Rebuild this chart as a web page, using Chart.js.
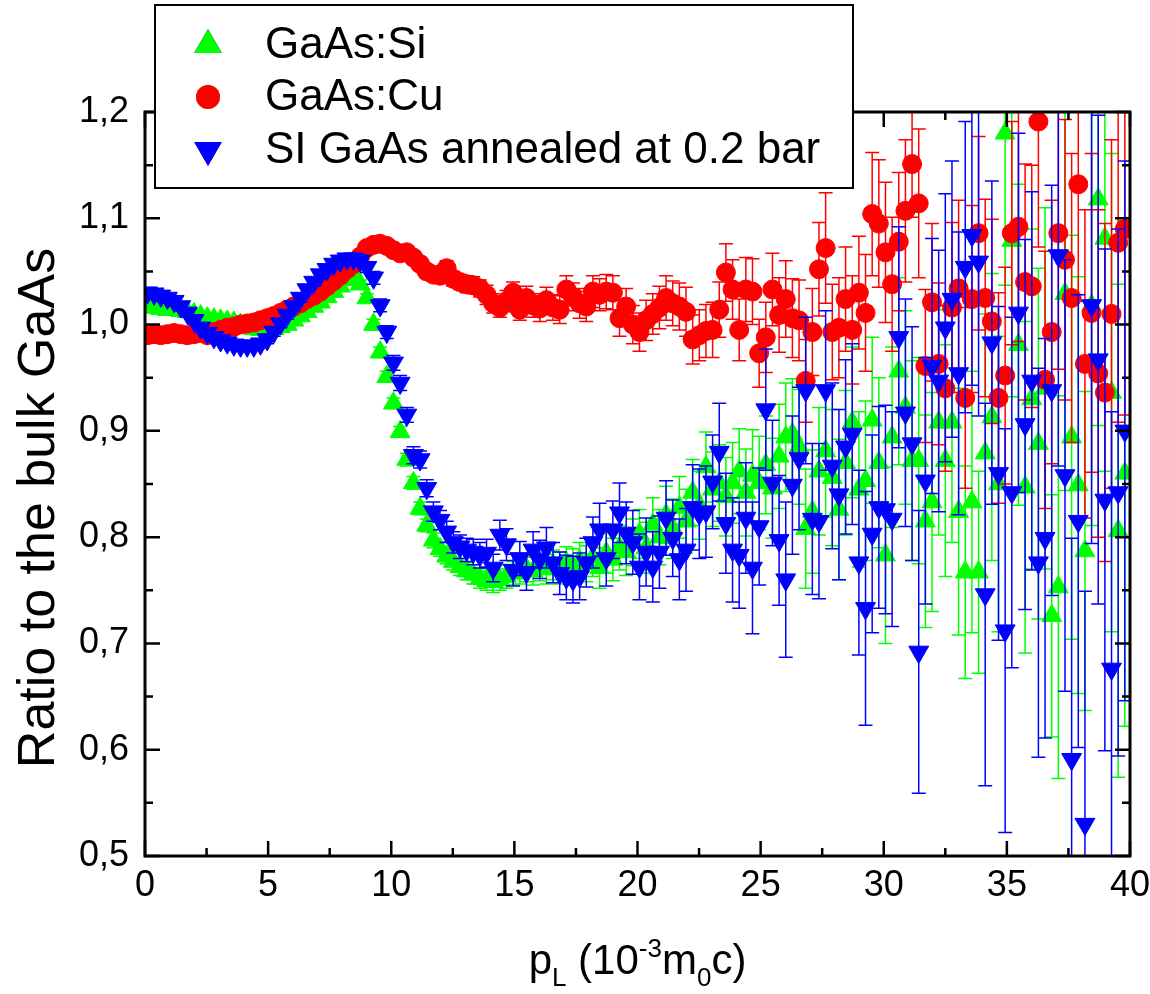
<!DOCTYPE html>
<html>
<head>
<meta charset="utf-8">
<script src="https://cdn.jsdelivr.net/npm/chart.js@4.4.0/dist/chart.umd.min.js"></script>
<style>
  html, body { margin: 0; padding: 0; background: #fff; }
  #wrap { width: 1150px; height: 994px; }
</style>
</head>
<body>
<div id="wrap"><canvas id="ratioChart" width="1150" height="994"></canvas></div>
<script>
// p_L in 10^-3 m0c
const pL = [
  0.10, 0.37, 0.64, 0.91, 1.18, 1.45, 1.72, 1.99, 2.26, 2.53,
  2.80, 3.07, 3.34, 3.61, 3.88, 4.15, 4.42, 4.69, 4.96, 5.23,
  5.50, 5.77, 6.04, 6.31, 6.58, 6.85, 7.12, 7.39, 7.66, 7.93,
  8.20, 8.47, 8.74, 9.01, 9.28, 9.55, 9.82, 10.09, 10.36, 10.63,
  10.90, 11.17, 11.44, 11.71, 11.98, 12.25, 12.52, 12.79, 13.06, 13.33,
  13.60, 13.87, 14.14, 14.41, 14.68, 14.95, 15.22, 15.49, 15.76, 16.03,
  16.30, 16.57, 16.84, 17.11, 17.38, 17.65, 17.92, 18.19, 18.46, 18.73,
  19.00, 19.27, 19.54, 19.81, 20.08, 20.35, 20.62, 20.89, 21.16, 21.43,
  21.70, 21.97, 22.24, 22.51, 22.78, 23.05, 23.32, 23.59, 23.86, 24.13,
  24.40, 24.67, 24.94, 25.21, 25.48, 25.75, 26.02, 26.29, 26.56, 26.83,
  27.10, 27.37, 27.64, 27.91, 28.18, 28.45, 28.72, 28.99, 29.26, 29.53,
  29.80, 30.07, 30.34, 30.61, 30.88, 31.15, 31.42, 31.69, 31.96, 32.23,
  32.50, 32.77, 33.04, 33.31, 33.58, 33.85, 34.12, 34.39, 34.66, 34.93,
  35.20, 35.47, 35.74, 36.01, 36.28, 36.55, 36.82, 37.09, 37.36, 37.63,
  37.90, 38.17, 38.44, 38.71, 38.98, 39.25, 39.52, 39.79
];

// GaAs:Si
const siRatio = [
  1.017, 1.016, 1.015, 1.014, 1.014, 1.013, 1.012, 1.010, 1.008, 1.006,
  1.005, 1.004, 1.003, 1.002, 1.000, 0.998, 0.996, 0.995, 0.995, 0.996,
  0.998, 1.000, 1.004, 1.008, 1.012, 1.017, 1.021, 1.026, 1.031, 1.036,
  1.042, 1.045, 1.038, 1.025, 1.000, 0.974, 0.951, 0.926, 0.899, 0.873,
  0.851, 0.827, 0.811, 0.797, 0.789, 0.782, 0.777, 0.772, 0.768, 0.765,
  0.761, 0.759, 0.758, 0.760, 0.763, 0.766, 0.768, 0.770, 0.768, 0.772,
  0.770, 0.774, 0.771, 0.776, 0.773, 0.778, 0.775, 0.781, 0.771, 0.785,
  0.779, 0.790, 0.786, 0.795, 0.803, 0.790, 0.812, 0.800, 0.821, 0.808,
  0.828, 0.815, 0.842, 0.830, 0.866, 0.845, 0.851, 0.838, 0.851, 0.862,
  0.842, 0.858, 0.851, 0.868, 0.846, 0.876, 0.894, 0.897, 0.885, 0.808,
  0.824, 0.862, 0.881, 0.856, 0.826, 0.870, 0.908, 0.845, 0.853, 0.910,
  0.870, 0.783, 0.894, 0.956, 0.922, 0.872, 0.872, 0.815, 0.833, 0.908,
  0.872, 0.908, 0.824, 0.767, 0.833, 0.767, 0.879, 0.913, 0.850, 1.180,
  1.079, 0.981, 0.847, 0.930, 0.888, 0.940, 0.726, 0.753, 1.029, 0.894,
  0.849, 0.787, 1.018, 1.118, 1.081, 0.936, 0.806, 0.860
];
const siErr = [
  0.003, 0.003, 0.003, 0.003, 0.003, 0.003, 0.003, 0.003, 0.003, 0.003,
  0.003, 0.003, 0.003, 0.003, 0.003, 0.003, 0.003, 0.003, 0.003, 0.003,
  0.003, 0.003, 0.003, 0.003, 0.003, 0.003, 0.003, 0.003, 0.003, 0.003,
  0.004, 0.004, 0.004, 0.004, 0.005, 0.005, 0.005, 0.005, 0.005, 0.006,
  0.006, 0.006, 0.006, 0.007, 0.007, 0.007, 0.008, 0.008, 0.008, 0.009,
  0.009, 0.009, 0.010, 0.010, 0.011, 0.011, 0.012, 0.012, 0.013, 0.013,
  0.014, 0.014, 0.015, 0.015, 0.016, 0.017, 0.017, 0.018, 0.019, 0.019,
  0.020, 0.021, 0.022, 0.022, 0.023, 0.024, 0.025, 0.026, 0.027, 0.028,
  0.029, 0.030, 0.031, 0.032, 0.033, 0.035, 0.036, 0.037, 0.038, 0.040,
  0.041, 0.043, 0.044, 0.046, 0.047, 0.049, 0.051, 0.052, 0.054, 0.056,
  0.058, 0.060, 0.062, 0.064, 0.066, 0.068, 0.071, 0.073, 0.075, 0.078,
  0.080, 0.083, 0.085, 0.088, 0.091, 0.094, 0.097, 0.100, 0.103, 0.106,
  0.109, 0.113, 0.116, 0.100, 0.123, 0.095, 0.131, 0.135, 0.139, 0.143,
  0.147, 0.151, 0.156, 0.160, 0.165, 0.170, 0.114, 0.180, 0.185, 0.190,
  0.196, 0.150, 0.207, 0.213, 0.219, 0.225, 0.232, 0.238
];

// GaAs:Cu
const cuRatio = [
  0.990, 0.991, 0.990, 0.991, 0.992, 0.991, 0.990, 0.991, 0.992, 0.990,
  0.993, 0.995, 0.997, 0.998, 1.000, 1.001, 1.002, 1.004, 1.006, 1.008,
  1.011, 1.014, 1.017, 1.020, 1.024, 1.027, 1.031, 1.036, 1.041, 1.046,
  1.052, 1.057, 1.064, 1.072, 1.075, 1.076, 1.074, 1.070, 1.067, 1.068,
  1.063, 1.057, 1.050, 1.047, 1.046, 1.053, 1.043, 1.040, 1.038, 1.037,
  1.034, 1.028, 1.020, 1.016, 1.022, 1.030, 1.014, 1.025, 1.018, 1.015,
  1.023, 1.016, 1.014, 1.033, 1.026, 1.020, 1.017, 1.031, 1.028, 1.031,
  1.030, 1.006, 1.017, 1.000, 0.993, 1.004, 1.010, 1.016, 1.025, 1.020,
  1.017, 1.012, 0.986, 0.990, 0.994, 0.995, 1.014, 1.049, 1.033, 0.995,
  1.033, 1.031, 0.973, 0.988, 1.033, 1.009, 1.024, 1.006, 1.004, 0.947,
  0.993, 1.052, 1.072, 0.993, 0.997, 1.024, 0.995, 1.030, 1.011, 1.104,
  1.095, 1.068, 1.038, 1.078, 1.107, 1.151, 1.114, 0.961, 1.021, 0.963,
  0.940, 1.016, 1.034, 0.931, 1.024, 1.086, 1.025, 1.003, 0.931, 0.952,
  1.086, 1.092, 1.040, 1.036, 1.191, 0.948, 0.993, 1.086, 1.061, 1.025,
  1.132, 0.963, 1.011, 0.954, 0.936, 1.010, 1.077, 1.090
];
const cuErr = [
  0.003, 0.003, 0.003, 0.003, 0.003, 0.003, 0.003, 0.003, 0.003, 0.003,
  0.003, 0.003, 0.003, 0.003, 0.003, 0.003, 0.003, 0.003, 0.003, 0.003,
  0.003, 0.003, 0.003, 0.003, 0.004, 0.004, 0.004, 0.004, 0.004, 0.004,
  0.004, 0.004, 0.004, 0.004, 0.004, 0.005, 0.005, 0.005, 0.005, 0.005,
  0.005, 0.006, 0.006, 0.006, 0.006, 0.007, 0.007, 0.007, 0.008, 0.008,
  0.008, 0.009, 0.009, 0.009, 0.010, 0.010, 0.010, 0.011, 0.011, 0.012,
  0.012, 0.012, 0.013, 0.013, 0.013, 0.014, 0.014, 0.015, 0.015, 0.016,
  0.016, 0.017, 0.017, 0.018, 0.018, 0.019, 0.019, 0.020, 0.021, 0.021,
  0.022, 0.023, 0.023, 0.024, 0.025, 0.026, 0.026, 0.027, 0.028, 0.029,
  0.030, 0.031, 0.032, 0.033, 0.034, 0.035, 0.036, 0.037, 0.038, 0.039,
  0.041, 0.044, 0.052, 0.045, 0.047, 0.049, 0.051, 0.053, 0.055, 0.058,
  0.060, 0.066, 0.063, 0.065, 0.067, 0.050, 0.070, 0.072, 0.074, 0.076,
  0.078, 0.080, 0.083, 0.085, 0.088, 0.091, 0.093, 0.096, 0.099, 0.102,
  0.105, 0.108, 0.111, 0.114, 0.118, 0.121, 0.124, 0.128, 0.132, 0.136,
  0.110, 0.145, 0.150, 0.154, 0.159, 0.164, 0.169, 0.175
];

// SI GaAs annealed at 0.2 bar
const annealedRatio = [
  1.030, 1.029, 1.027, 1.025, 1.022, 1.017, 1.011, 1.004, 0.997, 0.992,
  0.988, 0.985, 0.983, 0.981, 0.980, 0.980, 0.980, 0.982, 0.986, 0.993,
  1.001, 1.009, 1.017, 1.025, 1.033, 1.040, 1.047, 1.052, 1.057, 1.060,
  1.062, 1.062, 1.060, 1.054, 1.044, 1.018, 0.993, 0.964, 0.945, 0.915,
  0.877, 0.873, 0.846, 0.824, 0.816, 0.805, 0.795, 0.791, 0.788, 0.786,
  0.783, 0.785, 0.771, 0.802, 0.793, 0.769, 0.780, 0.767, 0.788, 0.779,
  0.790, 0.776, 0.766, 0.762, 0.760, 0.763, 0.776, 0.795, 0.807, 0.780,
  0.807, 0.823, 0.804, 0.795, 0.772, 0.786, 0.772, 0.786, 0.818, 0.799,
  0.779, 0.788, 0.828, 0.822, 0.824, 0.852, 0.880, 0.813, 0.788, 0.783,
  0.818, 0.771, 0.810, 0.920, 0.851, 0.797, 0.760, 0.849, 0.874, 0.938,
  0.817, 0.815, 0.938, 0.867, 0.840, 0.885, 0.897, 0.776, 0.733, 0.803,
  0.828, 0.826, 0.817, 0.988, 0.917, 0.888, 0.692, 0.853, 0.961, 0.947,
  0.997, 1.024, 0.954, 1.054, 1.084, 1.059, 0.746, 0.983, 0.860, 0.712,
  0.842, 1.011, 0.906, 0.947, 0.776, 0.799, 0.938, 1.065, 0.858, 0.591,
  0.815, 0.530, 1.018, 0.967, 0.835, 0.676, 0.842, 0.900
];
const annealedErr = [
  0.004, 0.004, 0.004, 0.004, 0.004, 0.004, 0.004, 0.004, 0.004, 0.004,
  0.004, 0.004, 0.004, 0.004, 0.004, 0.004, 0.004, 0.004, 0.004, 0.004,
  0.004, 0.004, 0.004, 0.004, 0.004, 0.004, 0.004, 0.004, 0.004, 0.004,
  0.004, 0.005, 0.005, 0.005, 0.006, 0.006, 0.006, 0.007, 0.007, 0.007,
  0.008, 0.008, 0.008, 0.009, 0.009, 0.010, 0.010, 0.011, 0.011, 0.012,
  0.012, 0.013, 0.013, 0.014, 0.015, 0.015, 0.016, 0.017, 0.017, 0.018,
  0.019, 0.019, 0.020, 0.021, 0.022, 0.022, 0.023, 0.024, 0.025, 0.026,
  0.027, 0.028, 0.029, 0.030, 0.031, 0.032, 0.033, 0.034, 0.035, 0.036,
  0.038, 0.039, 0.040, 0.042, 0.043, 0.044, 0.046, 0.047, 0.049, 0.050,
  0.052, 0.062, 0.055, 0.057, 0.059, 0.061, 0.073, 0.065, 0.067, 0.069,
  0.071, 0.073, 0.075, 0.078, 0.080, 0.082, 0.085, 0.087, 0.110, 0.093,
  0.095, 0.098, 0.101, 0.104, 0.107, 0.110, 0.133, 0.116, 0.120, 0.123,
  0.126, 0.130, 0.133, 0.137, 0.141, 0.145, 0.180, 0.152, 0.157, 0.190,
  0.165, 0.169, 0.174, 0.178, 0.183, 0.188, 0.193, 0.198, 0.203, 0.208,
  0.213, 0.219, 0.224, 0.230, 0.236, 0.242, 0.248, 0.254
];

const seriesLabels = ['GaAs:Si', 'GaAs:Cu', 'SI GaAs annealed at 0.2 bar'];
const seriesColors = ['#00ff00', '#ff0000', '#0000ff'];

const FONT = "'Liberation Sans', Arial, sans-serif";

// error bars, drawn just before each dataset's own markers
const errorBars = {
  id: 'errorBars',
  beforeDatasetDraw(chart, args) {
    const ds = chart.data.datasets[args.index];
    const yScale = chart.scales.y;
    const area = chart.chartArea;
    const ctx = chart.ctx;
    const cap = 7;
    ctx.save();
    ctx.beginPath();
    ctx.rect(area.left, area.top, area.right - area.left, area.bottom - area.top);
    ctx.clip();
    ctx.strokeStyle = ds.borderColor;
    ctx.lineWidth = 1.5;
    ctx.beginPath();
    args.meta.data.forEach((pt, i) => {
      const d = ds.data[i];
      const yHi = yScale.getPixelForValue(d.y + d.err);
      const yLo = yScale.getPixelForValue(d.y - d.err);
      ctx.moveTo(pt.x, yHi);
      ctx.lineTo(pt.x, yLo);
      ctx.moveTo(pt.x - cap, yHi);
      ctx.lineTo(pt.x + cap, yHi);
      ctx.moveTo(pt.x - cap, yLo);
      ctx.lineTo(pt.x + cap, yLo);
    });
    ctx.stroke();
    ctx.restore();
  }
};

// box frame with inward ticks on all four sides
const frameTicks = {
  id: 'frameTicks',
  afterDatasetsDraw(chart) {
    const { ctx, chartArea: a, scales: { x, y } } = chart;
    const major = 15, minor = 8;
    ctx.save();
    ctx.strokeStyle = '#000';
    ctx.lineWidth = 2.5;
    ctx.beginPath();
    x.ticks.forEach((t, i) => {
      const px = x.getPixelForValue(t.value);
      ctx.moveTo(px, a.bottom); ctx.lineTo(px, a.bottom - major);
      ctx.moveTo(px, a.top); ctx.lineTo(px, a.top + major);
      if (i < x.ticks.length - 1) {
        const pm = x.getPixelForValue((t.value + x.ticks[i + 1].value) / 2);
        ctx.moveTo(pm, a.bottom); ctx.lineTo(pm, a.bottom - minor);
        ctx.moveTo(pm, a.top); ctx.lineTo(pm, a.top + minor);
      }
    });
    y.ticks.forEach((t, i) => {
      const py = y.getPixelForValue(t.value);
      ctx.moveTo(a.left, py); ctx.lineTo(a.left + major, py);
      ctx.moveTo(a.right, py); ctx.lineTo(a.right - major, py);
      if (i < y.ticks.length - 1) {
        const pm = y.getPixelForValue((t.value + y.ticks[i + 1].value) / 2);
        ctx.moveTo(a.left, pm); ctx.lineTo(a.left + minor, pm);
        ctx.moveTo(a.right, pm); ctx.lineTo(a.right - minor, pm);
      }
    });
    ctx.stroke();
    ctx.lineWidth = 3;
    ctx.strokeRect(a.left, a.top, a.right - a.left, a.bottom - a.top);
    ctx.restore();
  }
};

// axis titles and boxed legend
const titlesLegend = {
  id: 'titlesLegend',
  afterDraw(chart) {
    const { ctx, chartArea: a } = chart;
    ctx.save();
    ctx.fillStyle = '#000';

    // y title
    ctx.save();
    ctx.translate(54, 508);
    ctx.rotate(-Math.PI / 2);
    ctx.font = '52px ' + FONT;
    ctx.textAlign = 'center';
    ctx.textBaseline = 'alphabetic';
    ctx.fillText('Ratio to the bulk GaAs', 0, 0);
    ctx.restore();

    // x title with sub/superscripts
    const big = 42, small = 26;
    const parts = [
      { t: 'p', s: big, dy: 0 },
      { t: 'L', s: small, dy: 12 },
      { t: ' (10', s: big, dy: 0 },
      { t: '-3', s: small, dy: -17 },
      { t: 'm', s: big, dy: 0 },
      { t: '0', s: small, dy: 12 },
      { t: 'c)', s: big, dy: 0 }
    ];
    let total = 0;
    parts.forEach(p => { ctx.font = p.s + 'px ' + FONT; p.w = ctx.measureText(p.t).width; total += p.w; });
    let cx = (a.left + a.right) / 2 - total / 2;
    const base = 974;
    ctx.textAlign = 'left';
    ctx.textBaseline = 'alphabetic';
    parts.forEach(p => {
      ctx.font = p.s + 'px ' + FONT;
      ctx.fillText(p.t, cx, base + p.dy);
      cx += p.w;
    });

    // legend box
    const box = { l: 155, t: 5, r: 853, b: 188 };
    ctx.fillStyle = '#fff';
    ctx.fillRect(box.l, box.t, box.r - box.l, box.b - box.t);
    ctx.strokeStyle = '#000';
    ctx.lineWidth = 2;
    ctx.strokeRect(box.l, box.t, box.r - box.l, box.b - box.t);
    const rowsY = [45, 97, 150];
    chart.data.datasets.forEach((ds, i) => {
      const my = rowsY[i];
      Chart.helpers.drawPoint(ctx, {
        pointStyle: ds.pointStyle,
        rotation: ds.pointRotation || 0,
        radius: ds.legendRadius,
        borderWidth: 1
      }, 208, my);
      ctx.fillStyle = ds.backgroundColor;
      ctx.strokeStyle = ds.borderColor;
      ctx.fill();
      ctx.stroke();
      ctx.fillStyle = '#000';
      ctx.font = '44px ' + FONT;
      ctx.textBaseline = 'middle';
      ctx.fillText(ds.label, 265, my + 1);
    });
    ctx.restore();
  }
};

function makeSet(idx, values, errs, style, rotation, radius, legendRadius, order) {
  return {
    label: seriesLabels[idx],
    data: pL.map((x, i) => ({ x: x, y: values[i], err: errs[i] })),
    pointStyle: style,
    pointRotation: rotation,
    pointRadius: radius,
    legendRadius: legendRadius,
    pointBorderWidth: 1,
    backgroundColor: seriesColors[idx],
    borderColor: seriesColors[idx],
    showLine: false,
    order: order
  };
}

const datasets = [
  makeSet(0, siRatio, siErr, 'triangle', 0, 11.5, 14, 2),
  makeSet(1, cuRatio, cuErr, 'circle', 0, 9.5, 11, 1),
  makeSet(2, annealedRatio, annealedErr, 'triangle', 180, 11.5, 14, 0)
];

new Chart(document.getElementById('ratioChart').getContext('2d'), {
  type: 'scatter',
  data: { datasets: datasets },
  options: {
    responsive: false,
    devicePixelRatio: 1,
    animation: false,
    events: [],
    layout: { padding: { top: 112, right: 20, left: 0, bottom: 0 } },
    plugins: {
      legend: { display: false },
      tooltip: { enabled: false }
    },
    scales: {
      x: {
        type: 'linear',
        min: 0,
        max: 40,
        grid: { display: false, drawTicks: false },
        border: { display: false },
        ticks: {
          stepSize: 5,
          padding: 8,
          color: '#000',
          maxRotation: 0,
          font: { family: FONT, size: 36 }
        },
        afterFit: function(scale) {
          scale.height = 138;
          scale.paddingLeft = 0;
          scale.paddingRight = 0;
        }
      },
      y: {
        type: 'linear',
        min: 0.5,
        max: 1.2,
        grid: { display: false, drawTicks: false },
        border: { display: false },
        ticks: {
          stepSize: 0.1,
          padding: 16,
          color: '#000',
          font: { family: FONT, size: 36 },
          callback: function(v) { return v.toFixed(1).replace('.', ','); }
        },
        afterFit: function(scale) {
          scale.width = 145;
          scale.paddingTop = 0;
          scale.paddingBottom = 0;
        }
      }
    }
  },
  plugins: [errorBars, frameTicks, titlesLegend]
});
</script>
</body>
</html>
